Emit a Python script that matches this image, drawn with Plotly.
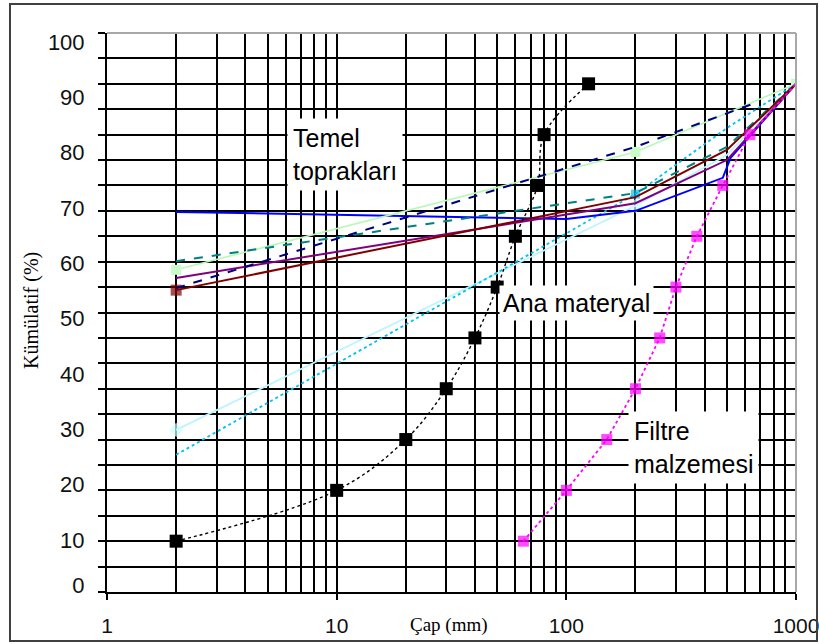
import plotly.graph_objects as go

# ---------------- data ----------------
# "Temel toprakları" (foundation soils) curves
blue_x = [2, 100, 200, 300, 480, 520, 1000]
blue_y = [74.8, 73.4, 75.0, 78.0, 81.5, 85.5, 100]

green_x = [2, 200, 1000]
green_y = [63.4, 86.6, 100]

teal_x = [2, 200, 500, 1000]
teal_y = [65.1, 78.5, 87.6, 100]

navy_x = [2, 200, 680]
navy_y = [59.8, 87.6, 96.4]

purple_x = [2, 200, 500, 1000]
purple_y = [61.8, 76.5, 85.0, 100]

darkred_x = [2, 200, 500, 1000]
darkred_y = [59.4, 77.7, 87.0, 100]

sky_x = [2, 200, 500, 1000]
sky_y = [27.0, 78.3, 91.3, 100]

lightcyan_x = [2, 200, 500, 1000]
lightcyan_y = [31.9, 76.0, 86.0, 100]

# "Ana materyal" (base material)
ana_x = [2, 10, 20, 30, 40, 50, 60, 75, 80, 125]
ana_y = [10, 20, 30, 40, 50, 60, 70, 80, 90, 100]

# "Filtre malzemesi" (filter material)
filtre_x = [65, 100, 150, 200, 255, 300, 370, 480, 630, 1000]
filtre_y = [10, 20, 30, 40, 50, 60, 70, 80, 90, 100]

# axis tick labels
x_tick_values = [1, 10, 100, 1000]
x_tick_labels = ["1", "10", "100", "1000"]
y_tick_numbers = [0, 10, 20, 30, 40, 50, 60, 70, 80, 90, 100]
y_tick_labels = [str(v) for v in y_tick_numbers]

# ---------------- figure ----------------
fig = go.Figure()


def add_line(x, y, color, width=1.6, dash="solid", marker=None, shape="linear"):
    kw = dict(x=x, y=y, mode="lines", line=dict(color=color, width=width, dash=dash, shape=shape),
              showlegend=False, hoverinfo="x+y")
    if marker is not None:
        kw["mode"] = "lines+markers"
        kw["marker"] = marker
    fig.add_trace(go.Scatter(**kw))


add_line(lightcyan_x, lightcyan_y, "#BDF4FF", 1.8,
         marker=dict(symbol="diamond", size=[11, 11, 0, 0], color="#CCFFFF", line=dict(width=0)))
add_line(sky_x, sky_y, "#00C0F0", 1.8, dash="dot",
         marker=dict(symbol="square", size=[0, 9, 0, 0], color="#00C0F0", line=dict(width=0)))
add_line(blue_x, blue_y, "#0000FF", 2)
add_line(green_x, green_y, "#B8F8B8", 1.6,
         marker=dict(symbol="square", size=10, color="#C8FCC8", line=dict(width=0)))
add_line(teal_x, teal_y, "#008080", 2, dash="dash")
add_line(purple_x, purple_y, "#800080", 2)
add_line(darkred_x, darkred_y, "#800000", 2,
         marker=dict(symbol="square", size=[11, 0, 0, 0], color="#800000", line=dict(width=0)))
add_line(navy_x, navy_y, "#000080", 2, dash="dash")

add_line(ana_x, ana_y, "#000000", 1.4, dash="dot", shape="spline",
         marker=dict(symbol="square", size=13, color="#000000", line=dict(width=0)))
add_line(filtre_x, filtre_y, "#FF00FF", 1.8, dash="dot",
         marker=dict(symbol="square", size=[11] * 9 + [0], color="#FF00FF", line=dict(width=0)))

x_tick_font = dict(family="Liberation Sans, Arial, sans-serif", size=21, color="#111111")
y_tick_font = dict(family="Liberation Sans, Arial, sans-serif", size=22, color="#111111")

fig.update_xaxes(
    type="log", range=[0, 3], automargin=False,
    tickmode="array", tickvals=x_tick_values, ticktext=x_tick_labels,
    ticks="outside", ticklen=6, tickwidth=2, tickcolor="#000000",
    tickfont=x_tick_font, ticklabelstandoff=8, ticklabeloverflow="allow",
    showgrid=True, gridcolor="#000000", gridwidth=2,
    minor=dict(dtick="D1", showgrid=True, gridcolor="#000000", gridwidth=2, ticks=""),
    showline=True, linecolor="#000000", linewidth=2, zeroline=False,
)

y_label_pos = [max(1.4, 1.0888 * v - 0.65) for v in y_tick_numbers]
fig.update_yaxes(
    range=[0, 110], automargin=False,
    tickmode="array", tickvals=y_label_pos, ticktext=y_tick_labels,
    ticks="", tickfont=y_tick_font, ticklabelstandoff=16,
    showgrid=False,
    minor=dict(tick0=0, dtick=5, showgrid=True, gridcolor="#000000", gridwidth=2,
               ticks="outside", ticklen=7, tickwidth=2, tickcolor="#000000"),
    showline=True, linecolor="#000000", linewidth=2, zeroline=False,
)

box_font = dict(family="Liberation Sans, Arial, sans-serif", size=25, color="#000000")
fig.add_annotation(xref="paper", yref="paper", x=0.346, y=0.7835, xanchor="center", yanchor="middle",
                   text="Temel<br>toprakları", align="left", showarrow=False, font=box_font,
                   bgcolor="#FFFFFF", borderpad=5)
fig.add_annotation(xref="paper", yref="paper", x=0.681, y=0.517, xanchor="center", yanchor="middle",
                   text="Ana materyal", align="left", showarrow=False, font=box_font,
                   bgcolor="#FFFFFF", borderpad=3)
fig.add_annotation(xref="paper", yref="paper", x=0.851, y=0.2585, xanchor="center", yanchor="middle",
                   text="Filtre<br>malzemesi", align="left", showarrow=False, font=box_font,
                   bgcolor="#FFFFFF", borderpad=5)

title_font = dict(family="Liberation Serif, Times New Roman, serif", size=20, color="#000000")
fig.add_annotation(xref="paper", yref="paper", x=-0.1089, y=0.5045, xanchor="center", yanchor="middle",
                   text="Kümülatif (%)", textangle=-90, showarrow=False, font=title_font)
fig.add_annotation(xref="paper", yref="paper", x=0.4964, y=-0.059, xanchor="center", yanchor="middle",
                   text="Çap (mm)", showarrow=False, font=dict(family=title_font["family"], size=19, color="#000000"))

# top / right plot frame in grey, outer chart border
fig.add_shape(type="line", xref="paper", yref="paper", x0=0, x1=1, y0=1, y1=1,
              line=dict(color="#A8A8A8", width=2))
fig.add_shape(type="line", xref="paper", yref="paper", x0=1, x1=1, y0=0, y1=1,
              line=dict(color="#A8A8A8", width=2))
fig.add_shape(type="rect", xref="paper", yref="paper", x0=-0.1408, x1=1.0305, y0=-0.0877, y1=1.0519,
              line=dict(color="#404040", width=2), fillcolor="rgba(0,0,0,0)")

fig.update_layout(
    width=819, height=644,
    margin=dict(l=107, r=23, t=33, b=52, autoexpand=False),
    paper_bgcolor="#FFFFFF", plot_bgcolor="#FFFFFF",
    showlegend=False,
)

fig.write_html("out.html", config={"displayModeBar": False},
               post_script="document.body.style.margin='0px';")
